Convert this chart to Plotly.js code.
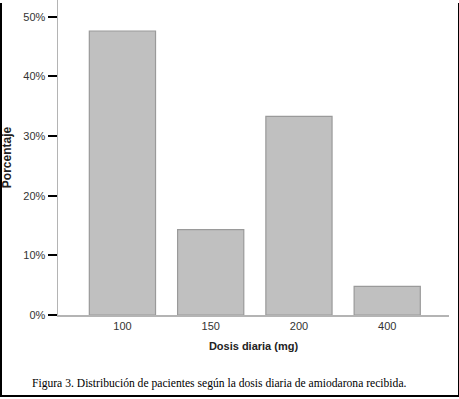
<!DOCTYPE html>
<html>
<head>
<meta charset="utf-8">
<script src="https://cdn.plot.ly/plotly-3.0.1.min.js"></script>
<style>
  html, body { margin: 0; padding: 0; background: #ffffff; }
  #wrap { position: relative; width: 459px; height: 399px; }
  #chart { position: absolute; left: 0; top: 0; width: 459px; height: 399px; }
  #frame { position: absolute; left: 0; top: 3px; width: 456px; height: 392px;
           border-left: 2px solid #000; border-right: 2px solid #000; border-bottom: 2px solid #000;
           pointer-events: none; box-sizing: content-box; }
</style>
</head>
<body>
<div id="wrap">
  <div id="chart"></div>
  <div id="frame"></div>
</div>
<script>
const categories = ['100', '150', '200', '400'];
const percentages = [47.6, 14.3, 33.3, 4.8];
const yTickValues = [0, 10, 20, 30, 40, 50];
const xTitle = 'Dosis diaria (mg)';
const yTitle = 'Porcentaje';
const caption = 'Figura 3. Distribución de pacientes según la dosis diaria de amiodarona recibida.';

const trace = {
  type: 'bar',
  x: categories,
  y: percentages,
  width: 0.75,
  marker: { color: '#c0c0c0', line: { color: '#9a9a9a', width: 1.2 } },
  hoverinfo: 'none'
};

const layout = {
  width: 459,
  height: 399,
  margin: { l: 58, r: 10, t: 0, b: 84 },
  paper_bgcolor: '#ffffff',
  plot_bgcolor: '#ffffff',
  showlegend: false,
  font: { family: 'Liberation Sans, Arial, sans-serif', size: 11, color: '#333333' },
  xaxis: {
    type: 'category',
    range: [-0.73, 3.70],
    showgrid: false,
    zeroline: false,
    showline: true,
    linecolor: '#b4b4b4',
    linewidth: 1.5,
    mirror: true,
    ticks: '',
    tickfont: { size: 11, color: '#333333' },
    title: { text: xTitle, font: { size: 11, color: '#222222', weight: 'bold' }, standoff: 11 }
  },
  yaxis: {
    range: [0, 52.8],
    tickvals: yTickValues,
    ticktext: yTickValues.map(v => v + '%'),
    showgrid: false,
    zeroline: false,
    showline: true,
    linecolor: '#b4b4b4',
    linewidth: 1.5,
    ticks: 'outside',
    ticklen: 9,
    tickwidth: 2,
    tickcolor: '#000000',
    tickfont: { size: 11, color: '#333333' },
    title: { text: yTitle, font: { size: 12, color: '#222222', weight: 'bold' }, standoff: 10 }
  },
  annotations: [{
    xref: 'paper', yref: 'paper',
    x: -0.071, y: -0.217,
    xanchor: 'left', yanchor: 'middle',
    showarrow: false,
    text: caption,
    font: { family: 'Liberation Serif, Times New Roman, serif', size: 11.6, color: '#000000' }
  }]
};

Plotly.newPlot('chart', [trace], layout, { displayModeBar: false, staticPlot: true });
</script>
</body>
</html>
